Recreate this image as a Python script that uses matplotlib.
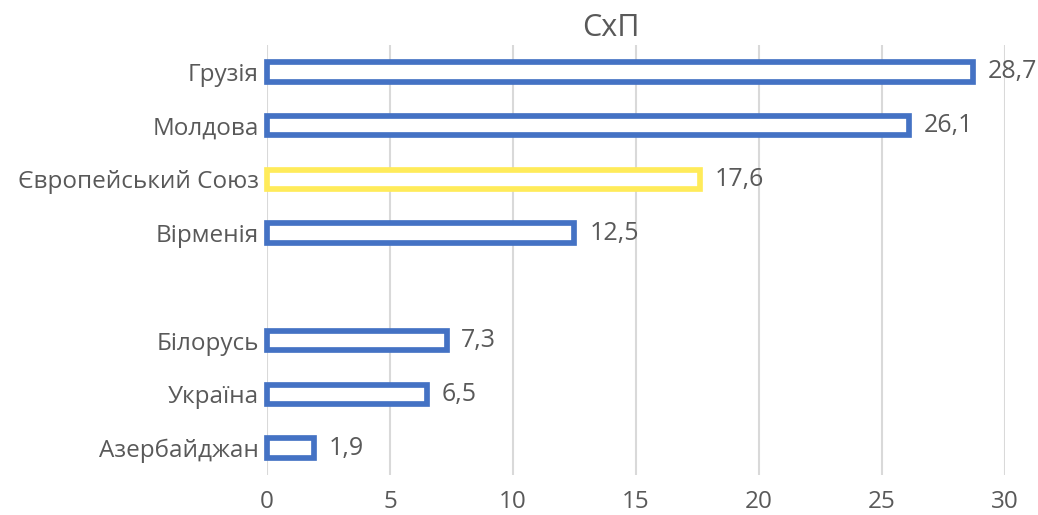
import numpy as np
import matplotlib.pyplot as plt

plt.rcParams['font.family'] = ['Open Sans', 'DejaVu Sans']

# data (empty string = blank gap row in the original)
countries = ['Грузія', 'Молдова', 'Європейський Союз', 'Вірменія', '',
             'Білорусь', 'Україна', 'Азербайджан']
values = [28.7, 26.1, 17.6, 12.5, None, 7.3, 6.5, 1.9]
highlight = 'Європейський Союз'

blue = '#4472C4'
yellow = '#FFEB5A'
txt = '#595959'

fig = plt.figure(figsize=(10.38, 5.15), dpi=100)
ax = fig.add_axes([0.2572, 0.0777, 0.7110, 0.8349])

pos = np.arange(len(countries))
for p, name, v in zip(pos, countries, values):
    if v is None:
        continue
    col = yellow if name == highlight else blue
    ax.barh(p, v, height=0.36, facecolor='white', edgecolor=col,
            linewidth=4.1, zorder=3, clip_on=False)
    ax.text(v + 0.6, p, f'{v:.1f}'.replace('.', ','), va='center', ha='left',
            fontsize=18, color=txt)

ax.set_xlim(0, 30)
ax.set_ylim(len(countries) - 0.5, -0.5)
ax.set_xticks(range(0, 31, 5))
ax.set_yticks(pos)
ax.set_yticklabels(countries)
ax.tick_params(axis='both', length=0, labelsize=17.5, labelcolor=txt)
ax.tick_params(axis='x', pad=11)
ax.tick_params(axis='y', pad=6)
ax.grid(axis='x', color='#D9D9D9', linewidth=1.5, zorder=0)
for s in ax.spines.values():
    s.set_visible(False)

fig.text(0.5886, 0.9456, 'СхП', ha='center', va='center', fontsize=22, color=txt)

fig.savefig('out.png', dpi=100)
